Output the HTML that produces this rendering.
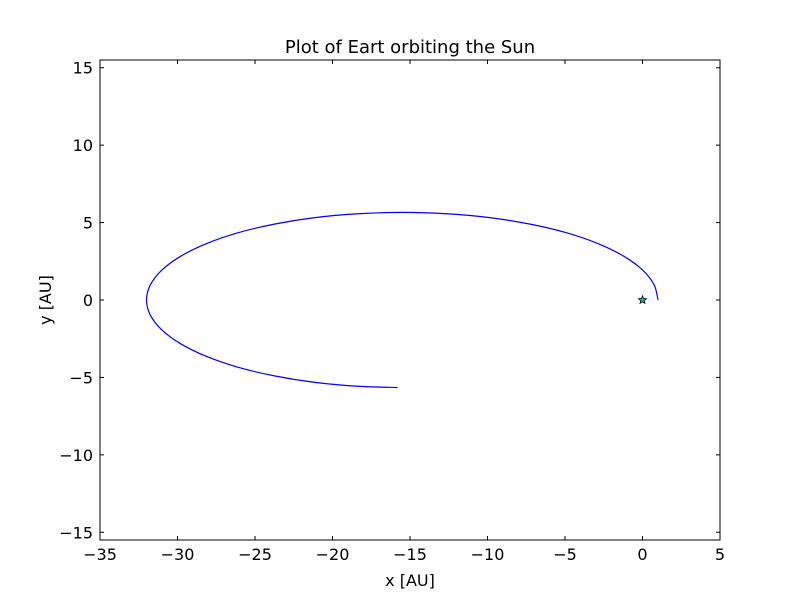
<!DOCTYPE html>
<html><head><meta charset="utf-8"><style>
body{margin:0;background:#fff;}
svg text{font-family:"DejaVu Sans","Liberation Sans",sans-serif;fill:#000;}
</style></head><body>
<svg id="chart" width="800" height="600" viewBox="0 0 800 600" xmlns="http://www.w3.org/2000/svg">
<rect x="0" y="0" width="800" height="600" fill="#fff"/>
<text x="410" y="53" font-size="18" text-anchor="middle">Plot of Eart orbiting the Sun</text>
<g id="ticks"></g>
<path id="orbit" fill="none" stroke="#0000ff" stroke-width="1.2"/>
<g id="sun"></g>
<rect x="100" y="60" width="620" height="480" fill="none" stroke="#000" stroke-width="1"/>
<text x="410" y="586" font-size="16" text-anchor="middle">x [AU]</text>
<text x="51" y="300" font-size="16" text-anchor="middle" transform="rotate(-90 51 300)">y [AU]</text>
</svg>
<script>
const orbitX=[1,0.75,0.0,-1.21,-2.86,-4.89,-7.25,-9.86,-12.64,-15.5,-18.36,-21.14,-23.75,-26.11,-28.14,-29.79,-31.0,-31.75,-32,-31.75,-31.0,-29.79,-28.14,-26.11,-23.75,-21.14,-18.36,-15.8];
const orbitY=[0,0.98,1.94,2.83,3.64,4.34,4.9,5.32,5.57,5.66,5.57,5.32,4.9,4.34,3.64,2.83,1.94,0.98,0,-0.98,-1.94,-2.83,-3.64,-4.34,-4.9,-5.32,-5.57,-5.65];
const sunX=[0];
const sunY=[0];
const xTicks=[-35,-30,-25,-20,-15,-10,-5,0,5];
const yTicks=[-15,-10,-5,0,5,10,15];
const X0=100,X1=720,Y0=60,Y1=540,xmin=-35,xmax=5,ymin=-15.5,ymax=15.5;
function sx(v){return X0+(v-xmin)/(xmax-xmin)*(X1-X0);}
function sy(v){return Y1-(v-ymin)/(ymax-ymin)*(Y1-Y0);}
const NS="http://www.w3.org/2000/svg";
const tg=document.getElementById('ticks');
function mk(t,a,p){const e=document.createElementNS(NS,t);for(const k in a)e.setAttribute(k,a[k]);p.appendChild(e);return e;}
const fmt=v=>v<0?'\u2212'+(-v):''+v;
xTicks.forEach(v=>{const x=sx(v);
 mk('line',{x1:x,x2:x,y1:Y1,y2:Y1-4,stroke:'#000'},tg);
 mk('line',{x1:x,x2:x,y1:Y0,y2:Y0+4,stroke:'#000'},tg);
 const t=mk('text',{x:x,y:Y1+20,'font-size':16,'text-anchor':'middle'},tg);t.textContent=fmt(v);
 
 
});
yTicks.forEach(v=>{const y=sy(v);
 mk('line',{x1:X0,x2:X0+4,y1:y,y2:y,stroke:'#000'},tg);
 mk('line',{x1:X1,x2:X1-4,y1:y,y2:y,stroke:'#000'},tg);
 const t=mk('text',{x:X0-7,y:y+6,'font-size':16,'text-anchor':'end'},tg);t.textContent=fmt(v);
 
 
});
const P=orbitX.map((x,i)=>[sx(x),sy(orbitY[i])]);
let d='M'+P[0][0]+','+P[0][1];
for(let i=0;i<P.length-1;i++){const p0=P[Math.max(i-1,0)],p1=P[i],p2=P[i+1],p3=P[Math.min(i+2,P.length-1)];
 d+=' C'+(p1[0]+(p2[0]-p0[0])/6)+','+(p1[1]+(p2[1]-p0[1])/6)+' '+(p2[0]-(p3[0]-p1[0])/6)+','+(p2[1]-(p3[1]-p1[1])/6)+' '+p2[0]+','+p2[1];}
document.getElementById('orbit').setAttribute('d',d);
const sg=document.getElementById('sun');
sunX.forEach((v,i)=>{const cx=sx(v),cy=sy(sunY[i]);let pts=[];
 for(let k=0;k<10;k++){const r=k%2?1.8:4.2,a=-Math.PI/2+k*Math.PI/5;pts.push((cx+r*Math.cos(a)).toFixed(2)+','+(cy+r*Math.sin(a)).toFixed(2));}
 const s=mk('polygon',{points:pts.join(' '),fill:'#00bfbf',stroke:'#000','stroke-width':0.8},sg);
 
 
});
</script>
</body></html>
